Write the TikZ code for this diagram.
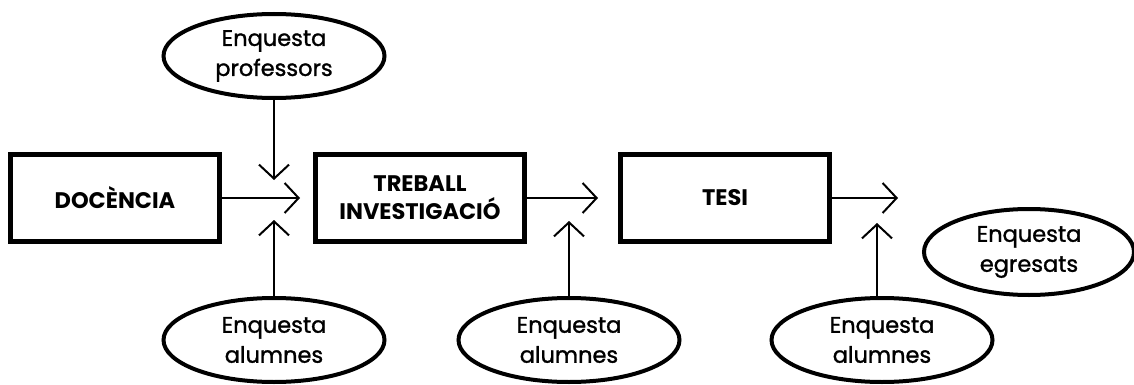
\documentclass[tikz,border=0pt]{standalone}
\usepackage{fontspec}
\setmainfont{Poppins}
\newfontfamily\surveyfont{Poppins}[FakeBold = 1.3]
\usetikzlibrary{positioning, shapes.geometric, arrows.meta}

\begin{document}
\begin{tikzpicture}[x = 1pt, y = -1pt, line width = 2pt,
    box/.style = {draw, line width = 5pt, minimum width = 209pt, minimum height = 87pt, inner sep = 0pt, align = center, font = \fontsize{22.5}{28}\selectfont\bfseries},
    survey/.style = {draw, ellipse, line width = 4pt, minimum width = 221pt, minimum height = 84pt, inner sep = 0pt, align = center, font = \fontsize{22.5}{30}\surveyfont},
    flow/.style = {-{Straight Barb[length = 14pt, width = 30pt]}}]
      \useasboundingbox (0, 0) rectangle (1134, 385);

      % stages
      \node[box] (doc) at (115, 198) {DOCÈNCIA};
      \node[box, right = 91pt of doc] (inv) {TREBALL\\INVESTIGACIÓ};
      \node[box, right = 91pt of inv] (tesi) {TESI};

      % surveys
      \node[survey] (prof) at (274, 56) {Enquesta\\professors};
      \node[survey] (alum1) at (274, 340) {Enquesta\\alumnes};
      \node[survey] (alum2) at (569, 340) {Enquesta\\alumnes};
      \node[survey] (alum3) at (882, 340) {Enquesta\\alumnes};
      \node[survey, minimum width = 210pt, minimum height = 86pt] (egr) at (1029, 252) {Enquesta\\egresats};

      % arrow tips
      \coordinate (out1) at (300, 198);
      \coordinate (out2) at (598, 198);
      \coordinate (out3) at (898, 198);
      \coordinate (in1) at (274, 180);
      \coordinate (in2) at (274, 220);
      \coordinate (in3) at (569, 221);
      \coordinate (in4) at (877, 223);

      \draw[flow] (doc) -- (out1);
      \draw[flow] (inv) -- (out2);
      \draw[flow] (tesi) -- (out3);
      \draw[flow] (prof) -- (in1);
      \draw[flow] (alum1) -- (in2);
      \draw[flow] (alum2) -- (in3);
      \draw[flow] (alum3.north -| in4) -- (in4);

    \end{tikzpicture}
\end{document}
